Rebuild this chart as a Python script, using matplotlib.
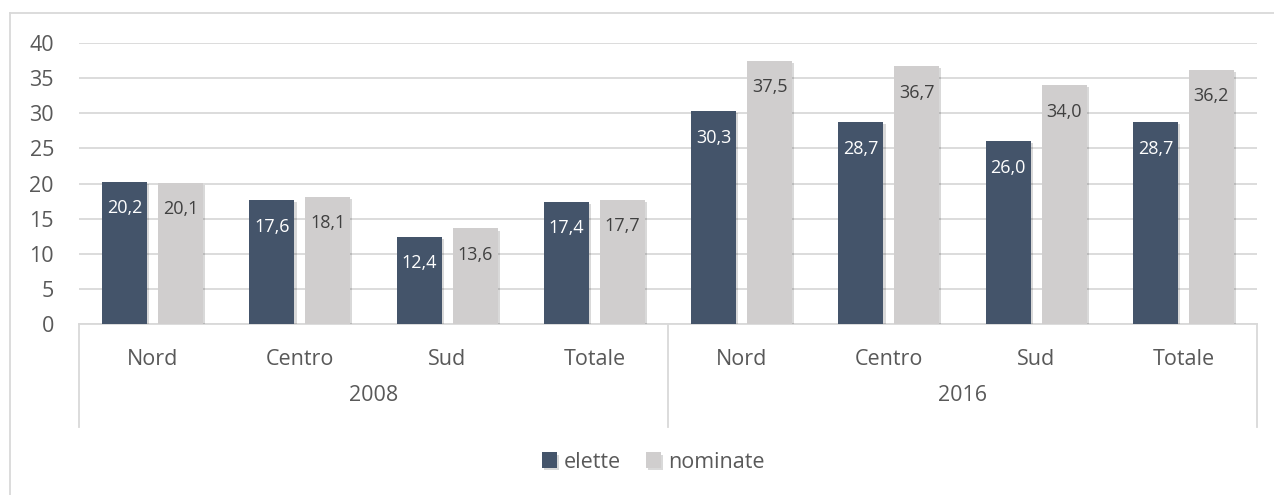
import numpy as np
import matplotlib.pyplot as plt
from matplotlib.lines import Line2D
import matplotlib.patheffects as pe

# data
areas = ["Nord", "Centro", "Sud", "Totale", "Nord", "Centro", "Sud", "Totale"]
years = ["2008", "2016"]
elette = [20.2, 17.6, 12.4, 17.4, 30.3, 28.7, 26.0, 28.7]
nominate = [20.1, 18.1, 13.6, 17.7, 37.5, 36.7, 34.0, 36.2]

c_dark = "#44546A"
c_gray = "#D0CECE"
c_grid = "#D9D9D9"
c_text = "#595959"

plt.rcParams['font.family'] = ['Open Sans', 'DejaVu Sans']

fig = plt.figure(figsize=(12.74, 4.95), dpi=100)
ax = fig.add_axes([79/1274, 1 - 324/495, (1257 - 79)/1274, (324 - 43)/495])

x = np.arange(len(areas))
w = 0.306
off = 0.19
shadow = [pe.SimplePatchShadow(offset=(1.5, -1.5), shadow_rgbFace="#000000", alpha=0.15), pe.Normal()]
b1 = ax.bar(x - off, elette, w, color=c_dark, label="elette", zorder=3, path_effects=shadow)
b2 = ax.bar(x + off, nominate, w, color=c_gray, label="nominate", zorder=3, path_effects=shadow)

def fmt(v):
    return f"{v:.1f}".replace(".", ",")

for xi, v in zip(x - off, elette):
    ax.annotate(fmt(v), (xi, v), xytext=(0, -19), textcoords="offset points",
                ha="center", va="center", color="white", fontsize=13, zorder=4)
for xi, v in zip(x + off, nominate):
    ax.annotate(fmt(v), (xi, v), xytext=(0, -19), textcoords="offset points",
                ha="center", va="center", color="#404040", fontsize=13, zorder=4)

ax.set_xlim(-0.5, len(areas) - 0.5)
ax.set_ylim(0, 40)
ax.set_yticks(range(0, 41, 5))
ax.yaxis.grid(True, color=c_grid, linewidth=1.3)
ax.set_axisbelow(True)
for s in ["top", "right", "left"]:
    ax.spines[s].set_visible(False)
ax.spines["bottom"].set_color(c_grid)
ax.spines["bottom"].set_linewidth(1.3)
ax.tick_params(axis="y", length=0, pad=18, labelsize=15.5, labelcolor=c_text)
ax.set_xticks([])

# two-level category axis
tr = ax.get_xaxis_transform()
for xi, name in zip(x, areas):
    ax.text(xi, -0.128, name, transform=tr, ha="center", va="center", fontsize=15.5, color=c_text)
for i, yr in enumerate(years):
    ax.text(i * 4 + 1.5, -0.253, yr, transform=tr, ha="center", va="center", fontsize=15.5, color=c_text)
for xs in [-0.5, 3.5, 7.5]:
    ax.plot([xs, xs], [0, -0.3665], transform=tr, color=c_grid, linewidth=1.3, clip_on=False)

ax.legend(loc="center", bbox_to_anchor=(653/1274, 1 - 462/495), bbox_transform=fig.transFigure,
          ncol=2, frameon=False, fontsize=15.5, labelcolor=c_text, handlelength=0.7,
          handleheight=0.7, handletextpad=0.3, columnspacing=1.2)

# outer chart frame (left and top visible)
fig.add_artist(Line2D([10/1274, 10/1274], [0, 1 - 13/495], color=c_grid, linewidth=1.3))
fig.add_artist(Line2D([10/1274, 1], [1 - 13/495, 1 - 13/495], color=c_grid, linewidth=1.3))

fig.savefig("out.png", dpi=100)
